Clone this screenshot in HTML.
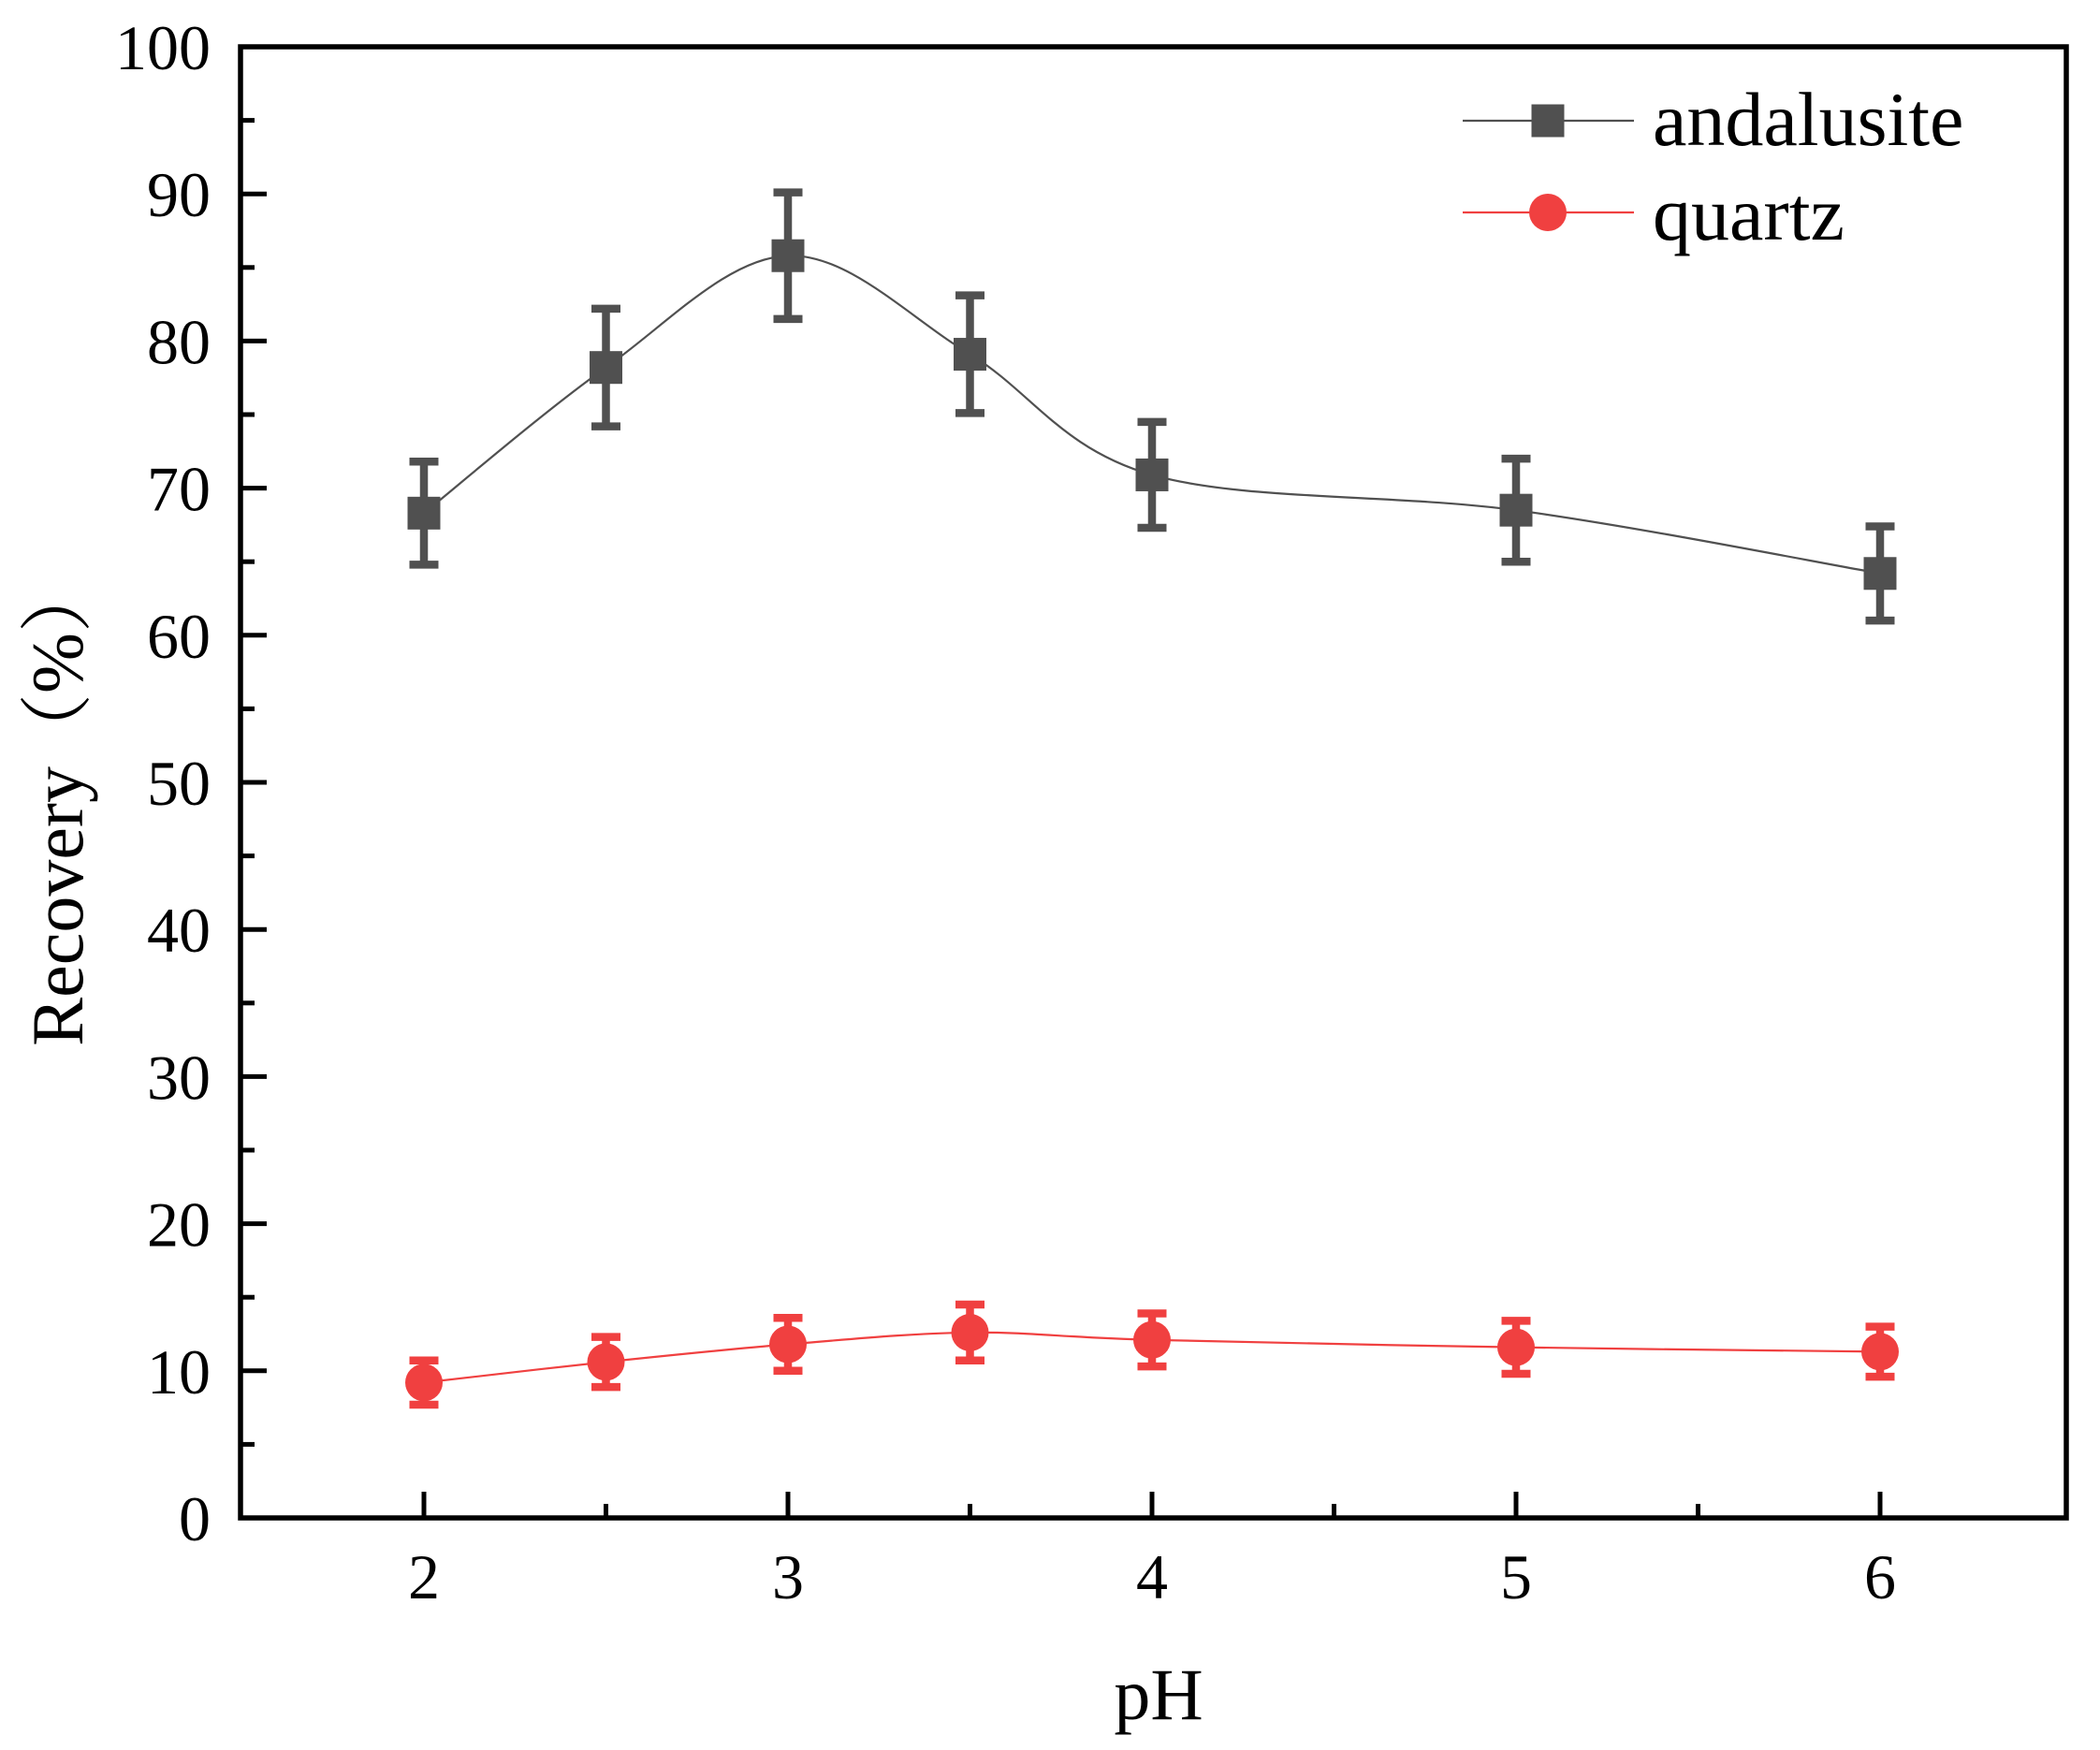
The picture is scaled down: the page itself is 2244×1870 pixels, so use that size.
<!DOCTYPE html>
<html><head><meta charset="utf-8"><style>
html,body{margin:0;padding:0;background:#fff;}
svg{display:block;}
text{font-family:"Liberation Serif","Noto Serif CJK SC",serif;fill:#000;}
</style></head><body>
<svg id="chart" width="2244" height="1870" viewBox="0 0 2244 1870" xmlns="http://www.w3.org/2000/svg">
<g id="grid"></g>
</svg>
<script>
const phValues = [2, 2.5, 3, 3.5, 4, 5, 6];
const andalusite = [68.3, 78.2, 85.8, 79.1, 70.9, 68.5, 64.2];
const andalusiteErr = [3.5, 4.0, 4.3, 4.0, 3.6, 3.5, 3.2];
const quartz = [9.2, 10.6, 11.8, 12.6, 12.1, 11.6, 11.3];
const quartzErr = [1.5, 1.7, 1.8, 1.9, 1.8, 1.8, 1.7];
const xTicks = [2, 3, 4, 5, 6];
const xMinor = [2.5, 3.5, 4.5, 5.5];
const yTicks = [0, 10, 20, 30, 40, 50, 60, 70, 80, 90, 100];
const yMinor = [5, 15, 25, 35, 45, 55, 65, 75, 85, 95];

const L = 257, R = 2208, T = 50, B = 1622;
const X = v => 453 + (v - 2) * 389;
const Y = v => B - v * (B - T) / 100;
const svg = document.getElementById('chart');
const NS = 'http://www.w3.org/2000/svg';
function mk(tag, attrs, parent) {
  const e = document.createElementNS(NS, tag);
  for (const k in attrs) e.setAttribute(k, attrs[k]);
  (parent || svg).appendChild(e);
  return e;
}
yTicks.forEach(v => {
  const t = mk('line', {x1: L, x2: L + 28, y1: Y(v), y2: Y(v), stroke: '#000', 'stroke-width': 5});
  
  
  const lb = mk('text', {x: 225, y: Y(v) + 24, 'font-size': 68, 'text-anchor': 'end'});
  lb.textContent = v;
  
  
});
yMinor.forEach(v => {
  const t = mk('line', {x1: L, x2: L + 15, y1: Y(v), y2: Y(v), stroke: '#000', 'stroke-width': 5});
  
  
});
xTicks.forEach(v => {
  const t = mk('line', {x1: X(v), x2: X(v), y1: B, y2: B - 28, stroke: '#000', 'stroke-width': 5});
  
  
  const lb = mk('text', {x: X(v), y: 1708, 'font-size': 68, 'text-anchor': 'middle'});
  lb.textContent = v;
  
  
});
xMinor.forEach(v => {
  const t = mk('line', {x1: X(v), x2: X(v), y1: B, y2: B - 15, stroke: '#000', 'stroke-width': 5});
  
  
});
const fr = mk('rect', {x: L, y: T, width: R - L, height: B - T, fill: 'none', stroke: '#000', 'stroke-width': 5.5});



function spline(xs, ys) {
  const p = xs.map((x, i) => [X(x), Y(ys[i])]);
  let d = 'M' + p[0][0] + ',' + p[0][1];
  for (let i = 0; i < p.length - 1; i++) {
    const p0 = p[i - 1] || p[i], p1 = p[i], p2 = p[i + 1], p3 = p[i + 2] || p[i + 1];
    const c1x = p1[0] + (p2[0] - p0[0]) / 6, c1y = p1[1] + (p2[1] - p0[1]) / 6;
    const c2x = p2[0] - (p3[0] - p1[0]) / 6, c2y = p2[1] - (p3[1] - p1[1]) / 6;
    d += ' C' + c1x + ',' + c1y + ' ' + c2x + ',' + c2y + ' ' + p2[0] + ',' + p2[1];
  }
  return d;
}
function series(vals, errs, color, shape, name) {
  const g = mk('g', {});
  
  
  const ln = mk('path', {d: spline(phValues, vals), fill: 'none', stroke: color, 'stroke-width': 2.2}, g);
  
  
  phValues.forEach((x, i) => {
    const cx = X(x), hi = Y(vals[i] + errs[i]), lo = Y(vals[i] - errs[i]);
    const eb = mk('path', {d: `M${cx},${hi} V${lo} M${cx - 15.5},${hi} H${cx + 15.5} M${cx - 15.5},${lo} H${cx + 15.5}`, stroke: color, 'stroke-width': 8.5, fill: 'none'}, g);
    
    
    let m;
    if (shape === 'square') m = mk('rect', {x: cx - 17.5, y: Y(vals[i]) - 17.5, width: 35, height: 35, fill: color}, g);
    else m = mk('circle', {cx: cx, cy: Y(vals[i]), r: 20, fill: color}, g);
    
    
  });
}
series(andalusite, andalusiteErr, '#505050', 'square', 'andalusite');
series(quartz, quartzErr, '#f04040', 'circle', 'quartz');
</script>
<svg style="position:absolute;left:0;top:0" width="2244" height="1870">
<g>
  <g>
    <line x1="1563" x2="1746" y1="129" y2="129" stroke="#505050" stroke-width="2.2"/>
    <rect x="1636.5" y="111.5" width="35" height="35" fill="#505050"/>
    <text x="1766" y="155" font-size="82">andalusite</text>
  </g>
  <g>
    <line x1="1563" x2="1746" y1="227" y2="227" stroke="#f04040" stroke-width="2.2"/>
    <circle cx="1654" cy="227" r="20" fill="#f04040"/>
    <text x="1766" y="256" font-size="82">quartz</text>
  </g>
</g>
<text x="1238" y="1837" font-size="78" text-anchor="middle">pH</text>
<text transform="translate(88,858) rotate(-90)" font-size="78" text-anchor="middle">Recovery（%）</text>
</svg>
</body></html>
